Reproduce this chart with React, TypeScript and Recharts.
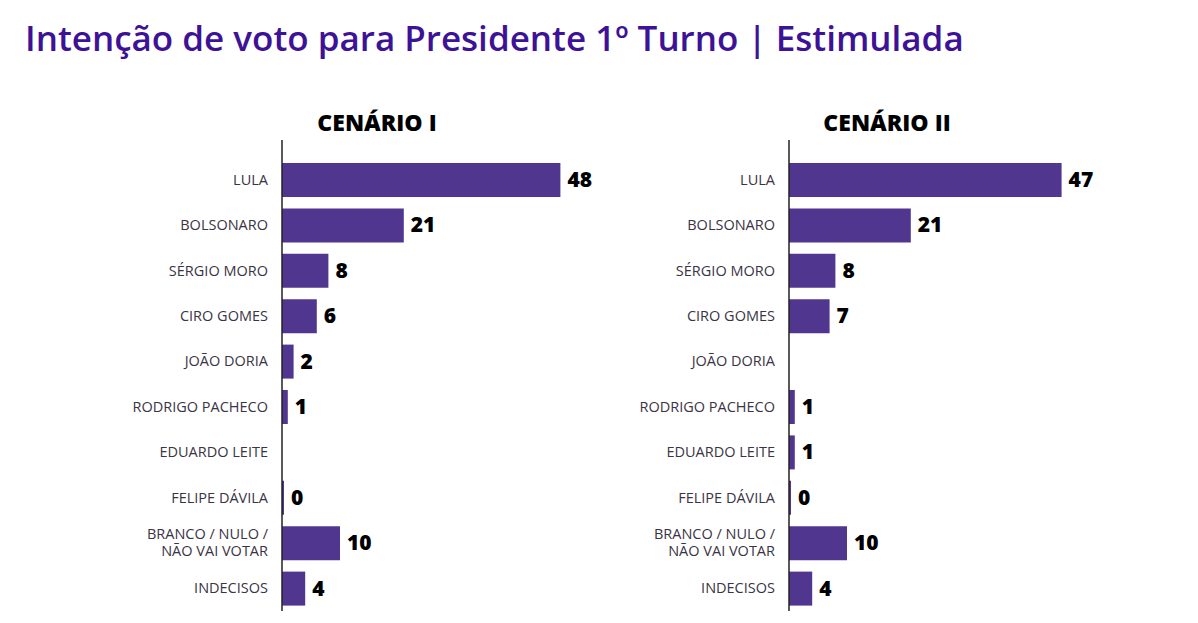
import { BarChart, Bar, XAxis, YAxis, LabelList } from 'recharts';

const categories = [
  'LULA',
  'BOLSONARO',
  'SÉRGIO MORO',
  'CIRO GOMES',
  'JOÃO DORIA',
  'RODRIGO PACHECO',
  'EDUARDO LEITE',
  'FELIPE DÁVILA',
  'BRANCO / NULO /\nNÃO VAI VOTAR',
  'INDECISOS',
];
const cenario1 = [48, 21, 8, 6, 2, 1, null, 0, 10, 4];
const cenario2 = [47, 21, 8, 7, null, 1, 1, 0, 10, 4];
const scenarioTitles = ['CENÁRIO I', 'CENÁRIO II'];

const BAR_COLOR = '#50368f';
const TITLE_COLOR = '#3d1296';

function CandidateTick(props: any) {
  const { x, y, payload } = props;
  const lines = String(payload.value).split('\n');
  const start = -((lines.length - 1) * 17) / 2;
  return (
    <text
      x={x - 6}
      y={y}
      textAnchor="end"
      fontFamily="'Open Sans', sans-serif"
      fontSize={14.5}
      fill="#3a3444"
    >
      {lines.map((l, i) => (
        <tspan key={i} x={x - 6} dy={i === 0 ? start + 5 : 17}>
          {l}
        </tspan>
      ))}
    </text>
  );
}

function ValueLabel(props: any) {
  const { x, y, width, height, value } = props;
  if (value === null || value === undefined) return null;
  return (
    <text
      x={x + width + 7}
      y={y + height / 2 + 7}
      fontFamily="'Open Sans', sans-serif"
      fontWeight={800}
      fontSize={21}
      fill="#000"
    >
      {value}
    </text>
  );
}

function ScenarioChart({ values, left }: { values: (number | null)[]; left: number }) {
  const data = categories.map((name, i) => ({ name, value: values[i] }));
  return (
    <div style={{ position: 'absolute', left, top: 140 }}>
      <BarChart
        width={282 + 348}
        height={471}
        data={data}
        layout="vertical"
        margin={{ top: 0, right: 0, bottom: 0, left: 0 }}
      >
        <XAxis type="number" domain={[0, 60]} hide />
        <YAxis
          type="category"
          dataKey="name"
          width={282}
          padding={{ top: 17, bottom: 0 }}
          axisLine={{ stroke: '#222', strokeWidth: 1.5 }}
          tickLine={false}
          tick={<CandidateTick />}
          interval={0}
        />
        <Bar
          dataKey="value"
          fill={BAR_COLOR}
          barSize={34}
          isAnimationActive={false}
          minPointSize={(v: any) => (v === 0 ? 2 : 0)}
        >
          <LabelList dataKey="value" content={<ValueLabel />} />
        </Bar>
      </BarChart>
    </div>
  );
}

export default function App() {
  return (
    <div
      style={{
        position: 'absolute',
        left: 0,
        top: 0,
        width: 1198,
        height: 623,
        background: '#fff',
        overflow: 'hidden',
      }}
    >
      <div
        style={{
          position: 'absolute',
          left: 25,
          top: 14,
          fontFamily: "'Open Sans', sans-serif",
          fontSize: 35,
          fontWeight: 600,
          lineHeight: '48px',
          color: TITLE_COLOR,
          whiteSpace: 'nowrap',
        }}
      >
        Intenção de voto para Presidente 1º Turno | Estimulada
      </div>
      {scenarioTitles.map((t, i) => (
        <div
          key={t}
          style={{
            position: 'absolute',
            left: i === 0 ? 277 : 787,
            width: 200,
            top: 106,
            textAlign: 'center',
            fontFamily: "'Open Sans', sans-serif",
            fontWeight: 800,
            fontSize: 23,
            lineHeight: '32px',
            color: '#000',
          }}
        >
          {t}
        </div>
      ))}
      <ScenarioChart values={cenario1} left={0} />
      <ScenarioChart values={cenario2} left={507} />
    </div>
  );
}
